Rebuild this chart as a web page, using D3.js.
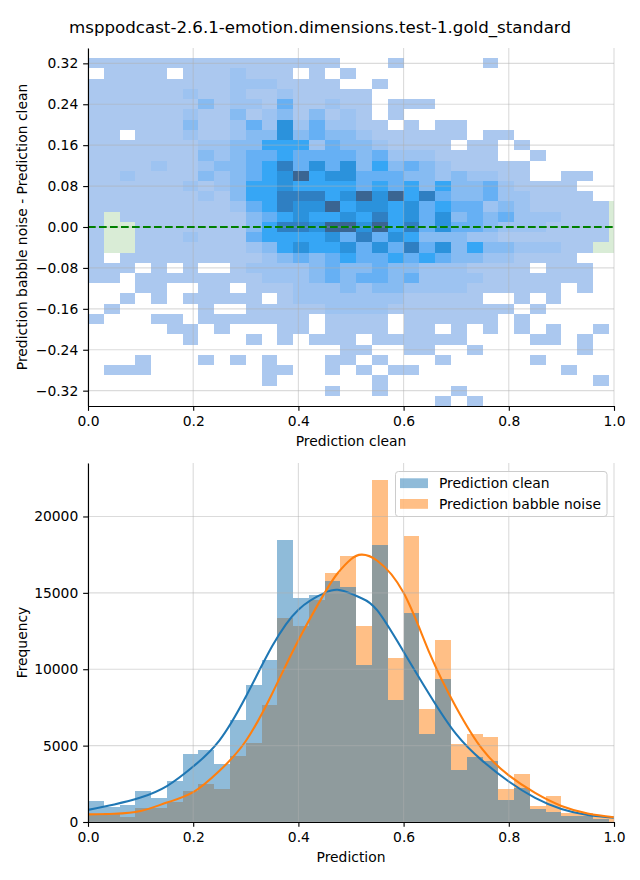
<!DOCTYPE html>
<html><head><meta charset="utf-8">
<script src="https://cdn.jsdelivr.net/npm/d3@7"></script>
<style>body{margin:0;background:#fff} text{font-family:"DejaVu Sans",sans-serif;fill:#000}</style>
</head><body><svg id="c" width="640" height="880" xmlns="http://www.w3.org/2000/svg"></svg>
<script>
const title = "msppodcast-2.6.1-emotion.dimensions.test-1.gold_standard";
const topXLabel = "Prediction clean";
const topYLabel = "Prediction babble noise - Prediction clean";
const botXLabel = "Prediction";
const botYLabel = "Frequency";
const seriesNames = ["Prediction clean", "Prediction babble noise"];

const xTicks = [0, 0.2, 0.4, 0.6, 0.8, 1.0];
const diffTicks = [-0.32, -0.24, -0.16, -0.08, 0, 0.08, 0.16, 0.24, 0.32];
const freqTicks = [0, 5000, 10000, 15000, 20000];

// 2D histogram: x bins of 0.03 starting at 0, y bins of 0.02 (top row 0.31..0.33)
const xBinWidth = 0.03;
const yBinHeight = 0.02;
const yTopEdge = 0.33;
// density level per cell (0 = empty), rows from top to bottom
const heatRows = [
"1111111111111111000100000100000000",
"0111101112111010100000000000000000",
"1111111112221111001000000000000000",
"1111112112112111110000000000000000",
"1111111312214112110111000000000000",
"1111112113123131210100000000000000",
"1111113112426242211010110000000000",
"1101112112336343321111110110000000",
"1111111223355524332111101101000000",
"1111111323445444434222111100100000",
"1111211233457464635343211111000000",
"1121111323456856644433232211001100",
"1111112123556555545453533421111000",
"1111111213557775686857433422111100",
"1111111112457668566564544232111110",
"1011111111345655657564634342221110",
"1001111111357768868574644322211110",
"1001112111455556474653332211111110",
"1001111111235655646474635332221100",
"1011111111123434544545433221111000",
"1110101001222234334332221111011100",
"1101111111122234344342222111111100",
"0001100110111222323322221111110100",
"0010101111101222222211111001010000",
"0100000100111112222111111110100000",
"1000110111111101111011111101000000",
"0000011010001101111011010101010010",
"0000001000101011101111110000110100",
"0000000000000000110011001000000100",
"0001000101010001101000100000100000",
"0111000000011001010110000000001000",
"0000000000010000001000000000000010",
"0000000000000001001000010000000000",
"0000000000000000000000101000000000"
];
// light green cells: [x lower edge, y lower edge]
const greenCells = [[0.03,0.01],[0.03,-0.01],[0.06,-0.01],[0.03,-0.03],[0.06,-0.03],[0.03,-0.05],[0.06,-0.05],
  [0.99,0.03],[0.99,0.01],[0.99,-0.01],[0.99,-0.03],[0.99,-0.05],[0.96,-0.05]];
const levelColors = ["#ffffff","#abc8ef","#9dc3f1","#86bbf2","#66b0f4","#36a6f5","#2b92dc","#2f7fc2","#3a6592"];

// 1D histograms (bins of 0.03 from 0)
const binStarts = [0,0.03,0.06,0.09,0.12,0.15,0.18,0.21,0.24,0.27,0.30,0.33,0.36,0.39,0.42,0.45,0.48,0.51,0.54,0.57,0.60,0.63,0.66,0.69,0.72,0.75,0.78,0.81,0.84,0.87,0.90,0.93,0.96,0.99];
const cleanCounts = [1377,1005,1115,2033,1595,2689,4459,4721,3803,6689,8984,10623,18492,14645,14885,15803,15366,10250,18164,8000,13683,5770,9377,3410,4262,4000,1443,2230,850,650,420,420,180,0];
const babbleCounts = [525,568,350,897,897,1333,2033,2492,2164,4328,5202,7672,13377,12809,14557,16328,17443,12809,22383,10733,18754,7410,11934,5115,5770,5552,2164,3148,1050,1705,560,620,330,230];
// KDE curves
const kdeX = [0,0.05,0.1,0.15,0.2,0.25,0.3,0.35,0.4,0.45,0.475,0.5,0.52,0.55,0.6,0.65,0.7,0.75,0.8,0.85,0.9,0.95,1.0];
const kdeClean = [790,1150,1600,2350,3630,5350,8200,11500,13900,15000,15200,14950,14650,13850,11150,8300,5750,4000,2650,1580,850,460,284];
const kdeBabble = [500,540,720,1270,1950,3350,5300,8400,11900,15000,16300,17200,17500,17100,15000,11000,7500,4750,3050,1900,1050,560,306];

const svg = d3.select("#c");
const FS = 13.89, TICK = 4.86, LW = 1.11;
const gridColor = "#b0b0b0", gridOpacity = 0.45;

svg.append("text").attr("x", 320).attr("y", 27).attr("text-anchor","middle")
  .attr("dominant-baseline","central").style("font-size","16.67px").text(title);

const defs = svg.append("defs");
function clip(id, x0, y0, x1, y1){
  defs.append("clipPath").attr("id", id).append("rect")
    .attr("x", x0).attr("y", y0).attr("width", x1-x0).attr("height", y1-y0);
}

// ---------- Top chart ----------
const T = {l:88, r:614, t:48, b:406};
const x1 = d3.scaleLinear().domain([0,1]).range([T.l, T.r]);
const y1 = d3.scaleLinear().domain([-0.35,0.35]).range([T.b, T.t]);
clip("clipTop", T.l, T.t, T.r, T.b);
const gTop = svg.append("g").attr("clip-path","url(#clipTop)");
const cells = [];
heatRows.forEach((row, r) => {
  const yHi = yTopEdge - r*yBinHeight;
  row.split("").forEach((ch, c) => {
    const lv = +ch;
    if (lv > 0) cells.push({x0: c*xBinWidth, y0: yHi - yBinHeight, lv});
  });
});
gTop.selectAll("rect.cell").data(cells).join("rect").attr("class","cell")
  .attr("x", d => x1(d.x0)).attr("width", d => x1(d.x0 + xBinWidth) - x1(d.x0))
  .attr("y", d => y1(d.y0 + yBinHeight)).attr("height", d => y1(d.y0) - y1(d.y0 + yBinHeight))
  .attr("fill", d => levelColors[d.lv]).attr("shape-rendering","crispEdges");
gTop.selectAll("rect.green").data(greenCells).join("rect").attr("class","green")
  .attr("x", d => x1(d[0])).attr("width", d => x1(d[0] + xBinWidth) - x1(d[0]))
  .attr("y", d => y1(d[1] + yBinHeight)).attr("height", d => y1(d[1]) - y1(d[1] + yBinHeight))
  .attr("fill", "#d9ecd6").attr("shape-rendering","crispEdges");

function grid(g, xs, ys, xTicksV, yTicksV){
  g.selectAll(null).data(xTicksV).join("line")
    .attr("x1", d => xs(d)).attr("x2", d => xs(d)).attr("y1", ys.range()[0]).attr("y2", ys.range()[1])
    .attr("stroke", gridColor).attr("stroke-opacity", gridOpacity).attr("stroke-width", LW);
  g.selectAll(null).data(yTicksV).join("line")
    .attr("y1", d => ys(d)).attr("y2", d => ys(d)).attr("x1", xs.range()[0]).attr("x2", xs.range()[1])
    .attr("stroke", gridColor).attr("stroke-opacity", gridOpacity).attr("stroke-width", LW);
}
grid(svg.append("g"), x1, y1, xTicks, diffTicks);

svg.append("line").attr("x1", x1(0)).attr("x2", x1(1)).attr("y1", y1(0)).attr("y2", y1(0))
  .attr("stroke", "#008000").attr("stroke-width", 2.08).attr("stroke-dasharray", "7.7,3.3");

function styleAxis(g){
  g.selectAll("text").style("font-size", FS+"px").attr("fill","#000");
  g.selectAll("line").attr("stroke","#000").attr("stroke-width",LW);
  g.select(".domain").attr("stroke","#000").attr("stroke-width",LW);
}
const fmt1 = d3.format(".1f"), fmt2 = d3.format(".2f");
svg.append("g").attr("transform",`translate(0,${T.b})`)
  .call(d3.axisBottom(x1).tickValues(xTicks).tickFormat(fmt1).tickSize(TICK).tickSizeOuter(0).tickPadding(4.86))
  .call(styleAxis);
svg.append("g").attr("transform",`translate(${T.l},0)`)
  .call(d3.axisLeft(y1).tickValues(diffTicks).tickFormat(fmt2).tickSize(TICK).tickSizeOuter(0).tickPadding(4.86))
  .call(styleAxis);
svg.append("text").attr("x", (T.l+T.r)/2).attr("y", 441).attr("text-anchor","middle")
  .attr("dominant-baseline","central").style("font-size", FS+"px").text(topXLabel);
svg.append("text").attr("transform", `translate(22,${(T.t+T.b)/2}) rotate(-90)`).attr("text-anchor","middle")
  .attr("dominant-baseline","central").style("font-size", FS+"px").text(topYLabel);

// ---------- Bottom chart ----------
const B = {l:88, r:614, t:463, b:822};
const x2 = d3.scaleLinear().domain([0,1]).range([B.l, B.r]);
const y2 = d3.scaleLinear().domain([0,23500]).range([B.b, B.t]);
clip("clipBot", B.l, B.t, B.r, B.b);
const gBot = svg.append("g").attr("clip-path","url(#clipBot)");
const colors = ["#1f77b4", "#ff7f0e"];
function bars(counts, color){
  gBot.append("g").selectAll("rect").data(counts.map((v,i)=>({x0: binStarts[i], v}))).join("rect")
    .attr("x", d => x2(d.x0)).attr("width", d => x2(d.x0 + xBinWidth) - x2(d.x0))
    .attr("y", d => y2(d.v)).attr("height", d => y2(0) - y2(d.v))
    .attr("fill", color).attr("fill-opacity", 0.5).attr("shape-rendering","crispEdges");
}
bars(babbleCounts, colors[1]);
bars(cleanCounts, colors[0]);
grid(svg.append("g"), x2, y2, xTicks, freqTicks);
const line = d3.line().x(d => x2(d[0])).y(d => y2(d[1])).curve(d3.curveNatural);
gBot.append("path").attr("d", line(kdeX.map((x,i)=>[x,kdeClean[i]]))).attr("fill","none")
  .attr("stroke", colors[0]).attr("stroke-width", 2.08);
gBot.append("path").attr("d", line(kdeX.map((x,i)=>[x,kdeBabble[i]]))).attr("fill","none")
  .attr("stroke", colors[1]).attr("stroke-width", 2.08);

svg.append("g").attr("transform",`translate(0,${B.b})`)
  .call(d3.axisBottom(x2).tickValues(xTicks).tickFormat(fmt1).tickSize(TICK).tickSizeOuter(0).tickPadding(4.86))
  .call(styleAxis);
svg.append("g").attr("transform",`translate(${B.l},0)`)
  .call(d3.axisLeft(y2).tickValues(freqTicks).tickFormat(d3.format("d")).tickSize(TICK).tickSizeOuter(0).tickPadding(4.86))
  .call(styleAxis);
svg.append("text").attr("x", (B.l+B.r)/2).attr("y", 857).attr("text-anchor","middle")
  .attr("dominant-baseline","central").style("font-size", FS+"px").text(botXLabel);
svg.append("text").attr("transform", `translate(22,${(B.t+B.b)/2}) rotate(-90)`).attr("text-anchor","middle")
  .attr("dominant-baseline","central").style("font-size", FS+"px").text(botYLabel);

// legend
const lg = svg.append("g");
lg.append("rect").attr("x", 395.5).attr("y", 471.5).attr("width", 211.5).attr("height", 45).attr("rx", 3)
  .attr("fill","#fff").attr("fill-opacity",0.8).attr("stroke","#cccccc").attr("stroke-width",1);
seriesNames.forEach((n,i) => {
  lg.append("rect").attr("x", 400).attr("y", 478.3 + i*20.7).attr("width", 28).attr("height", 9.8)
    .attr("fill", colors[i]).attr("fill-opacity", 0.5);
  lg.append("text").attr("x", 439).attr("y", 483.3 + i*20.7).attr("dominant-baseline","central")
    .style("font-size", FS+"px").text(n);
});
</script></body></html>
